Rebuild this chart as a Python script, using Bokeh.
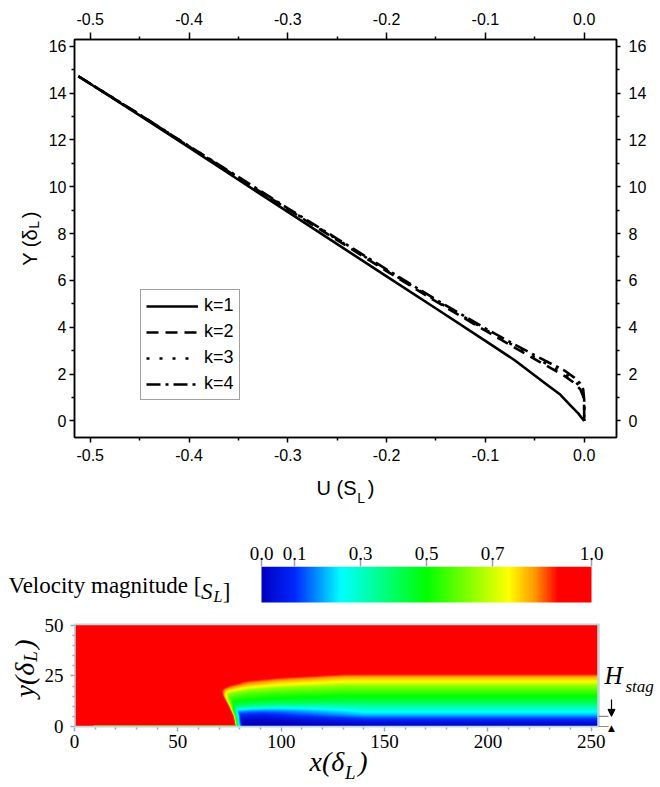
import numpy as np
from bokeh.plotting import figure
from bokeh.models import (Range1d, LinearAxis, FixedTicker, PrintfTickFormatter,
                          Legend, LegendItem, LinearColorMapper, Arrow, NormalHead)
from bokeh.layouts import column
from bokeh.embed import file_html
from bokeh.resources import INLINE
from bokeh.core.properties import value

SANS = "Liberation Sans"
SERIF = "Liberation Serif"
NB = "\u00a0"

# ---------------- top panel data: U (S_L) vs Y (delta_L) ----------------
u_k1 = [-0.512, -0.45, -0.40, -0.35, -0.30, -0.25, -0.20, -0.15, -0.10, -0.07, -0.04, -0.025, -0.013, -0.006, -0.002, 0.0]
y_k1 = [14.72, 13.05, 11.68, 10.30, 8.93, 7.55, 6.17, 4.80, 3.42, 2.58, 1.62, 1.15, 0.62, 0.32, 0.10, 0.0]
u_k2 = [-0.512, -0.45, -0.40, -0.35, -0.30, -0.25, -0.20, -0.15, -0.10, -0.07, -0.04, -0.02, -0.01, -0.004, -0.001, 0.0, 0.0]
y_k2 = [14.72, 13.08, 11.72, 10.38, 9.04, 7.72, 6.40, 5.10, 3.85, 3.12, 2.40, 1.92, 1.62, 1.35, 1.05, 0.60, 0.0]
u_k3 = [-0.512, -0.45, -0.40, -0.35, -0.30, -0.25, -0.20, -0.15, -0.10, -0.07, -0.04, -0.02, -0.01, -0.004, -0.001, 0.0, 0.0]
y_k3 = [14.72, 13.08, 11.73, 10.40, 9.06, 7.75, 6.43, 5.14, 3.90, 3.18, 2.48, 2.02, 1.72, 1.45, 1.15, 0.70, 0.0]
u_k4 = [-0.512, -0.45, -0.40, -0.35, -0.30, -0.25, -0.20, -0.15, -0.10, -0.07, -0.04, -0.02, -0.01, -0.004, -0.001, 0.0, 0.0]
y_k4 = [14.72, 13.09, 11.74, 10.42, 9.08, 7.78, 6.47, 5.18, 3.95, 3.25, 2.58, 2.15, 1.85, 1.60, 1.35, 0.90, 0.0]
series_labels = ["k=1", "k=2", "k=3", "k=4"]

x_ticks = [-0.5, -0.4, -0.3, -0.2, -0.1, 0.0]
x_minor = [-0.45, -0.35, -0.25, -0.15, -0.05]
y_ticks = [0, 2, 4, 6, 8, 10, 12, 14, 16]
y_minor = [1, 3, 5, 7, 9, 11, 13, 15]

# ---------------- bottom panel data: velocity magnitude field ----------------
dom_w = 253.5          # domain length (delta_L)
dom_h = 50.5           # domain height (delta_L)
front_y = [0.0, 5.0, 10.0, 15.0, 18.4]          # flame front: height
front_x = [77.5, 76.5, 74.0, 71.0, 68.5]        # flame front: x position
top_x = [68.5, 75.0, 83.7, 99.0, 130.0, 253.5]  # decelerated layer: x
top_h = [18.4, 21.5, 23.8, 25.4, 27.0, 27.0]    # decelerated layer: height
prof_y = [0.0, 2.0, 4.0, 5.7, 8.0, 9.8, 12.0, 15.0, 18.0, 20.5, 22.0, 24.6, 27.0]
prof_u_near = [0.0, 0.0, 0.03, 0.07, 0.14, 0.24, 0.40, 0.50, 0.57, 0.65, 0.75, 0.85, 1.0]
prof_u_far = [0.0, 0.05, 0.12, 0.20, 0.27, 0.33, 0.42, 0.50, 0.58, 0.65, 0.75, 0.82, 1.0]
prof_top = 27.0
blend_x = [77.5, 92.0, 140.0, 253.5]
blend_w = [0.0, 0.0, 1.0, 1.0]
front_d = [0.0, 1.0, 2.0, 4.0]
front_w = [1.0, 0.6, 0.3, 0.0]
bl_x0 = 9.0
bl_thick = 0.6
bl_val = 0.62
h_stag = 5.0

x2_ticks = [0, 50, 100, 150, 200, 250]
x2_minor = [v for v in range(10, 251, 10) if v % 50]
y2_ticks = [0, 25, 50]
y2_minor = [5, 10, 15, 20, 30, 35, 40, 45]

cb_ticks = [0.0, 0.1, 0.3, 0.5, 0.7, 1.0]
cb_labels = ["0.0", "0.1", "0.3", "0.5", "0.7", "1.0"]

cmap_v = [0.0, 0.1, 0.24, 0.5, 0.75, 0.83, 0.9, 1.0]
cmap_rgb = [(0, 0, 192), (0, 40, 255), (0, 255, 255), (0, 255, 0),
            (255, 255, 0), (255, 150, 0), (255, 0, 0), (255, 0, 0)]

# common horizontal borders (the column aligns the plot frames)
BL, BR, W = 74, 44, 660
FL, FR = BL, W - BR


def tick_axis(ticks, minor, fmt, standoff, tick_out, font, size, color="black", minor_out=3, lw=1.5):
    ax = LinearAxis(ticker=FixedTicker(ticks=ticks, minor_ticks=minor),
                    formatter=PrintfTickFormatter(format=fmt))
    ax.axis_line_width = lw
    ax.major_tick_line_width = 1.5
    ax.minor_tick_line_width = 1.5
    ax.major_tick_line_color = color
    ax.minor_tick_line_color = color
    ax.major_tick_out = tick_out
    ax.major_tick_in = 0
    ax.minor_tick_out = minor_out
    ax.minor_tick_in = 0
    ax.major_label_text_font = font
    ax.major_label_text_font_size = size
    ax.major_label_text_color = "black"
    ax.major_label_standoff = standoff
    return ax


def title_axis(text, font, size, standoff, style="normal", orient="parallel"):
    ax = LinearAxis(ticker=FixedTicker(ticks=[], minor_ticks=[]), axis_label=text)
    ax.axis_line_color = None
    ax.major_tick_out = 0
    ax.major_tick_in = 0
    ax.minor_tick_out = 0
    ax.minor_tick_in = 0
    ax.major_label_text_font_size = "0px"
    ax.axis_label_text_font = font
    ax.axis_label_text_font_size = size
    ax.axis_label_text_font_style = style
    ax.axis_label_text_color = "black"
    ax.axis_label_standoff = standoff
    ax.axis_label_orientation = orient
    return ax


# ====================== TOP FIGURE ======================
p1 = figure(width=W, height=512, x_range=Range1d(-0.5159, 0.0327), y_range=Range1d(-0.71, 16.29),
            x_axis_type=None, y_axis_type=None, output_backend="svg", toolbar_location=None,
            min_border_left=BL, min_border_right=BR, min_border_top=39, min_border_bottom=75)
p1.outline_line_color = "black"
p1.outline_line_width = 1.5

p1.add_layout(tick_axis(x_ticks, x_minor, "%.1f", 6, 5, SANS, "16px"), "below")
p1.add_layout(tick_axis(x_ticks, x_minor, "%.1f", 8, 7, SANS, "16px"), "above")
p1.add_layout(tick_axis(y_ticks, y_minor, "%d", 3, 5, SANS, "16px"), "left")
p1.add_layout(tick_axis(y_ticks, y_minor, "%d", 8, 4, SANS, "16px"), "right")
# axis titles: main text + subscript L on a second, pulled-in axis
p1.add_layout(title_axis("U (S" + NB * 2 + ")", SANS, "20px", 13), "below")
p1.add_layout(title_axis(NB * 8 + "L", SANS, "14px", -12), "below")
p1.add_layout(title_axis("Y (\u03b4" + NB * 2 + ")", SANS, "20px", 5), "left")
p1.add_layout(title_axis(NB * 7 + "L", SANS, "14px", -26), "left")

r1 = p1.line(u_k1, y_k1, line_color="black", line_width=2.6, line_join="round")
r2 = p1.line(u_k2, y_k2, line_color="black", line_width=2.6, line_dash="12 7")
r3 = p1.line(u_k3, y_k3, line_color="black", line_width=2.6, line_dash="3 10")
r4 = p1.line(u_k4, y_k4, line_color="black", line_width=2.6, line_dash="14 5 3 5")

legend = Legend(items=[LegendItem(label=lab, renderers=[r]) for lab, r in zip(series_labels, [r1, r2, r3, r4])],
                location=(66, 37))
legend.border_line_color = "#444444"
legend.border_line_width = 1
legend.background_fill_color = "white"
legend.background_fill_alpha = 1
legend.label_text_font = SANS
legend.label_text_font_size = "18px"
legend.label_text_color = "black"
legend.glyph_width = 52
legend.glyph_height = 20
legend.label_height = 20
legend.label_standoff = 6
legend.spacing = 5
legend.padding = 5
p1.add_layout(legend)

# ====================== colour mapper ======================
grid = np.linspace(0, 1, 256)
cm = np.array(cmap_rgb, dtype=float)
palette = ["#%02x%02x%02x" % (int(round(np.interp(g, cmap_v, cm[:, 0]))),
                              int(round(np.interp(g, cmap_v, cm[:, 1]))),
                              int(round(np.interp(g, cmap_v, cm[:, 2])))) for g in grid]
mapper = LinearColorMapper(palette=palette, low=0.0, high=1.0)

# ====================== COLOUR BAR FIGURE ======================
cb_px0, cb_px1 = 261, 591                   # page x of the values 0 and 1
ppu = cb_px1 - cb_px0
CB_FT, CB_FB = 566, 604                     # page y of the frame
p2 = figure(width=W, height=100, x_range=Range1d((FL - cb_px0) / ppu, (FR - cb_px0) / ppu),
            y_range=Range1d(0, CB_FB - CB_FT),
            x_axis_type=None, y_axis_type=None, output_backend="svg", toolbar_location=None,
            min_border_left=BL, min_border_right=BR, min_border_top=CB_FT - 512, min_border_bottom=612 - CB_FB)
p2.outline_line_color = None


def cy(py):
    return CB_FB - py


def cbx(px):
    return (px - cb_px0) / ppu


cb_axis = tick_axis(cb_ticks, [], "%.1f", 0, 7, SERIF, "19px", color="#a397bd")
cb_axis.axis_line_color = None
cb_axis.major_label_overrides = {t: s for t, s in zip(cb_ticks, cb_labels)}
p2.add_layout(cb_axis, "above")
p2.image(image=[grid.reshape(1, -1)], x=0, y=cy(602), dw=1, dh=36, color_mapper=mapper)
p2.add_layout(title_axis("Velocity magnitude [", SERIF, "23px", -127, orient="horizontal"), "left")
p2.text(x=[cbx(230)], y=[cy(591)], text=["]"], text_font=value(SERIF), text_font_size="23px",
        text_align="right", text_baseline="alphabetic", text_color="black")
p2.text(x=[cbx(222)], y=[cy(596)], text=["L"], text_font=value(SERIF), text_font_size="16px",
        text_font_style="italic", text_align="right", text_baseline="alphabetic", text_color="black")
p2.text(x=[cbx(212)], y=[cy(591)], text=["S"], text_font=value(SERIF), text_font_size="23px",
        text_font_style="italic", text_align="right", text_baseline="alphabetic", text_color="black")

# ====================== BOTTOM FIGURE ======================
B_FT, B_FB = 623, 727
ppx = 2.067                                  # pixels per delta_L
B_XR = (0.0, (FR - FL) / ppx)
B_YR = (-0.5, 50.9)


def bx(px):
    return B_XR[0] + (px - FL) / (FR - FL) * (B_XR[1] - B_XR[0])


def by(py):
    return B_YR[0] + (B_FB - py) / (B_FB - B_FT) * (B_YR[1] - B_YR[0])


p3 = figure(width=W, height=175, x_range=Range1d(*B_XR), y_range=Range1d(*B_YR),
            x_axis_type=None, y_axis_type=None, output_backend="svg", toolbar_location=None,
            min_border_left=BL, min_border_right=BR, min_border_top=B_FT - 612, min_border_bottom=787 - B_FB)
p3.outline_line_color = None

nx, ny = 507, 202
xs = (np.arange(nx) + 0.5) * dom_w / nx
ys = (np.arange(ny) + 0.5) * dom_h / ny
X, Y = np.meshgrid(xs, ys)
xf = np.interp(Y, front_y, front_x)
h = np.interp(X, top_x, top_h)
eta = Y * prof_top / h
u_near = np.interp(eta, prof_y, prof_u_near)
u_far = np.interp(eta, prof_y, prof_u_far)
w = np.interp(X, blend_x, blend_w)
U = (1 - w) * u_near + w * u_far
fb = np.interp(X - xf, front_d, front_w)
U = U + (1 - U) * fb
bl = (Y < bl_thick) & (X > bl_x0) & (X < xf)
U[bl] = bl_val

p3.image(image=[U], x=0, y=0, dw=dom_w, dh=dom_h, color_mapper=mapper)
p3.quad(left=[0.0], right=[dom_w], bottom=[-0.3], top=[50.7], fill_color=None,
        line_color="#bcd6d6", line_width=2.5)

ax_b = tick_axis(x2_ticks, x2_minor, "%d", 3, 4, SERIF, "19px", color="#8fb0b8", minor_out=2)
ax_b.axis_line_color = None
p3.add_layout(ax_b, "below")
# small upward arrow head under the wall line (H_stag marker), pulled up to the frame edge
arrow_x = bx(611)
ax_up = tick_axis([arrow_x], [], "\u25b2", -28, 0, "DejaVu Sans", "9px", minor_out=0)
ax_up.axis_line_color = None
p3.add_layout(ax_up, "below")
p3.add_layout(title_axis("x(\u03b4" + NB * 2 + ")" + NB * 2, SERIF, "28px", -5, style="italic"), "below")
p3.add_layout(title_axis(NB * 2 + "L", SERIF, "19px", -18, style="italic"), "below")

ax_l = tick_axis(y2_ticks, y2_minor, "%d", 7, 4, SERIF, "19px", color="#8fb0b8", minor_out=2)
ax_l.axis_line_color = None
p3.add_layout(ax_l, "left")
p3.add_layout(title_axis(NB * 2 + "y(\u03b4" + NB * 2 + ")", SERIF, "28px", 2, style="italic"), "left")
p3.add_layout(title_axis(NB * 8 + "L", SERIF, "19px", -35, style="italic"), "left")
p3.add_layout(title_axis("H", SERIF, "25px", -12, style="italic", orient="horizontal"), "right")
p3.add_layout(title_axis(NB + "\nstag", SERIF, "17px", 0, style="italic", orient="horizontal"), "right")

# H_stag marker
p3.segment(x0=[bx(598)] * 2, y0=[0.0, h_stag], x1=[bx(608)] * 2, y1=[0.0, h_stag],
           line_color="#8a8a8a", line_width=1.2)
p3.add_layout(Arrow(end=NormalHead(size=7, fill_color="black", line_color="black"),
                    x_start=arrow_x, y_start=by(699), x_end=arrow_x, y_end=h_stag,
                    line_color="black", line_width=1.2))

layout = column(p1, p2, p3)
open("out.html", "w").write(file_html(layout, INLINE))
